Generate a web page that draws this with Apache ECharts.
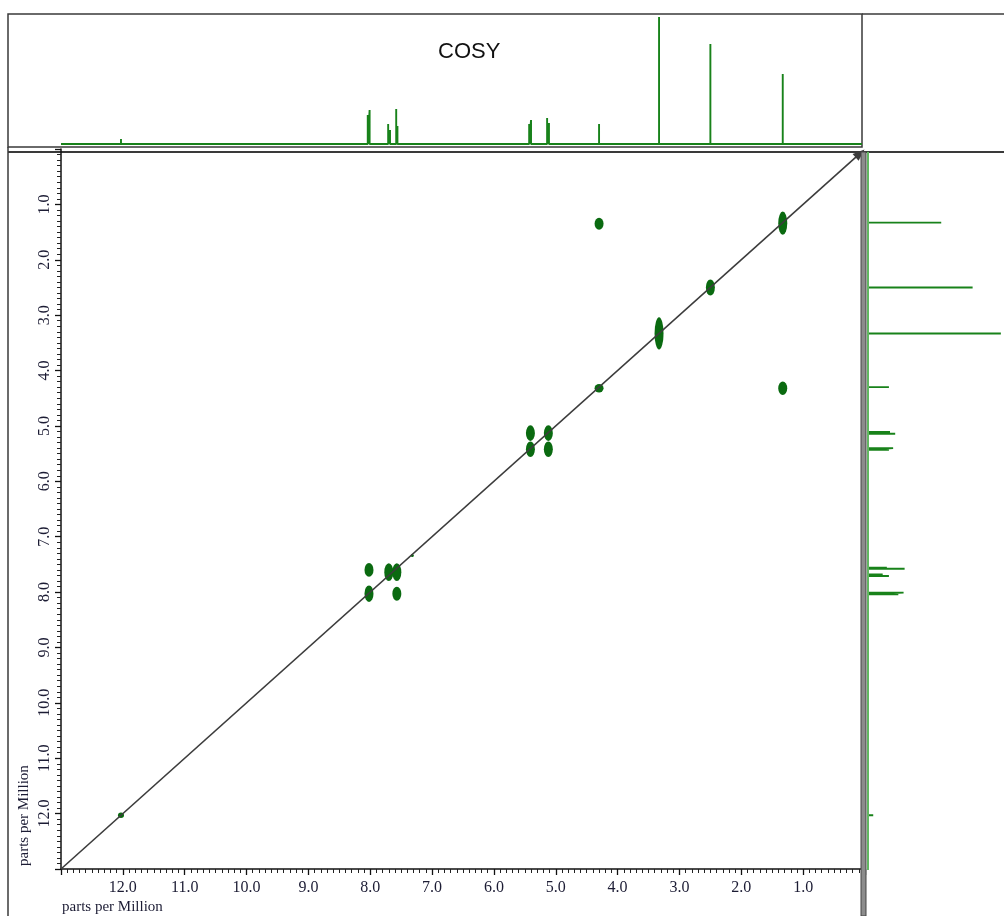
<!DOCTYPE html>
<html>
<head>
<meta charset="utf-8">
<title>COSY</title>
<script src="https://cdn.jsdelivr.net/npm/echarts@6/dist/echarts.min.js"></script>
<style>
  html, body { margin: 0; padding: 0; background: #fff; }
  #main { width: 1004px; height: 916px; }
</style>
</head>
<body>
<div id="main"></div>
<script>
// 1D proton spectrum (projection), ppm and relative height
var peakPpm    = [12.03, 8.04, 8.01, 7.71, 7.68, 7.58, 7.56, 5.43, 5.40, 5.14, 5.11, 4.30, 3.33, 2.50, 1.33];
var peakHeight = [5,     29,   34,   20,   14,   35,   18,   20,   24,   26,   21,   20,   127,  100,  70];

// 2D cross peaks: F2 (horizontal), F1 (vertical), F1 spread in ppm
var crossF2   = [12.03, 8.02, 8.02, 7.70, 7.57, 7.57, 7.32, 5.41, 5.41, 5.12, 5.12, 4.30, 4.30, 3.33, 2.50, 1.33, 1.33];
var crossF1   = [12.03, 8.03, 7.60, 7.64, 7.64, 8.03, 7.34, 5.13, 5.42, 5.13, 5.42, 1.35, 4.32, 3.33, 2.50, 1.34, 4.32];
var crossSpan = [0.10,  0.30, 0.25, 0.32, 0.32, 0.25, 0.05, 0.28, 0.28, 0.28, 0.28, 0.22, 0.15, 0.58, 0.29, 0.42, 0.24];

var ppmMax = 13, ppmMin = 0;

(function () {
    'use strict';
    var chart = echarts.init(document.getElementById('main'), null, { renderer: 'canvas' });

    // stick spectrum built from the peak list
    var order = peakPpm.map(function (p, i) { return i; }).sort(function (a, b) { return peakPpm[b] - peakPpm[a]; });
    var topLine = [[ppmMax, 0]];
    order.forEach(function (i) {
        topLine.push([peakPpm[i], 0], [peakPpm[i], peakHeight[i]], [peakPpm[i], 0]);
    });
    topLine.push([0.05, 0]);
    var sideLine = topLine.map(function (d) { return [d[1], d[0]]; });

    var cross = crossF2.map(function (x, i) { return [x, crossF1[i], crossSpan[i]]; });

    var serif = 'Liberation Serif';
    var green = '#18821a';
    var pxPerPpmY = 720 / 13;

    var tickLabel = function (v) {
        if (v <= 0 || v >= 13) return '';
        return v.toFixed(1);
    };

    var option = {
        animation: false,
        backgroundColor: '#fff',
        title: {
            text: 'COSY', left: 433, top: 36,
            textStyle: { fontFamily: 'Liberation Sans', fontWeight: 'normal', fontSize: 22, color: '#111' }
        },
        grid: [
            { left: 61, top: 149, width: 804, height: 720 },
            { left: 61, top: 14, width: 804, height: 130 },
            { left: 868, top: 149, width: 147, height: 720 }
        ],
        xAxis: [
            {
                gridIndex: 0, type: 'value', min: ppmMin, max: ppmMax, interval: 1, inverse: true,
                position: 'bottom',
                axisLine: { show: true, onZero: false, lineStyle: { color: '#111', width: 1.5 } },
                axisTick: { show: true, length: 6, lineStyle: { color: '#111', width: 1.3 } },
                minorTick: { show: true, splitNumber: 10, length: 4, lineStyle: { color: '#222', width: 1 } },
                axisLabel: { formatter: tickLabel, fontFamily: serif, fontSize: 16, color: '#1c1c34', margin: 11 },
                splitLine: { show: false }
            },
            { gridIndex: 1, type: 'value', min: ppmMin, max: ppmMax, inverse: true, show: false },
            { gridIndex: 2, type: 'value', min: 0, max: 130, show: false }
        ],
        yAxis: [
            {
                gridIndex: 0, type: 'value', min: ppmMin, max: ppmMax, interval: 1, inverse: true,
                position: 'left',
                axisLine: { show: true, onZero: false, lineStyle: { color: '#111', width: 1.5 } },
                axisTick: { show: true, length: 6, lineStyle: { color: '#111', width: 1.3 } },
                minorTick: { show: true, splitNumber: 10, length: 4, lineStyle: { color: '#222', width: 1 } },
                axisLabel: { formatter: tickLabel, rotate: 90, fontFamily: serif, fontSize: 16, color: '#1c1c34', margin: 8 },
                splitLine: { show: false }
            },
            { gridIndex: 1, type: 'value', min: 0, max: 130, show: false },
            { gridIndex: 2, type: 'value', min: ppmMin, max: ppmMax, inverse: true, show: false }
        ],
        series: [
            {
                name: 'cross peaks', type: 'scatter', xAxisIndex: 0, yAxisIndex: 0,
                data: cross,
                symbol: 'circle',
                symbolSize: function (v) { return [v[2] < 0.08 ? 3 : (v[2] < 0.12 ? 6 : 9), Math.max(3, v[2] * pxPerPpmY)]; },
                itemStyle: { color: '#0a6a10', opacity: 1 },
                emphasis: { disabled: true },
                z: 3,
                markLine: {
                    silent: true,
                    symbol: ['none', 'triangle'],
                    symbolSize: [9, 12],
                    label: { show: false },
                    lineStyle: { color: '#3c3c3c', width: 1.6, type: 'solid' },
                    data: [[{ coord: [ppmMax, ppmMax] }, { coord: [0.08, 0.08] }]]
                }
            },
            {
                name: 'F2 projection', type: 'line', xAxisIndex: 1, yAxisIndex: 1,
                data: topLine, showSymbol: false, symbol: 'none',
                lineStyle: { color: green, width: 1.9 },
                emphasis: { disabled: true }
            },
            {
                name: 'F1 projection', type: 'line', xAxisIndex: 2, yAxisIndex: 2,
                data: sideLine, showSymbol: false, symbol: 'none',
                lineStyle: { color: green, width: 1.9 },
                emphasis: { disabled: true }
            }
        ],
        graphic: [
            { type: 'rect', shape: { x: 8, y: 14, width: 854, height: 133 }, style: { fill: 'none', stroke: '#3a3a3a', lineWidth: 1.5 }, silent: true },
            { type: 'line', shape: { x1: 862, y1: 14, x2: 1004, y2: 14 }, style: { stroke: '#3a3a3a', lineWidth: 1.5 }, silent: true },
            { type: 'line', shape: { x1: 8, y1: 152, x2: 1004, y2: 152 }, style: { stroke: '#3a3a3a', lineWidth: 2 }, silent: true },
            { type: 'line', shape: { x1: 8, y1: 147, x2: 8, y2: 916 }, style: { stroke: '#3a3a3a', lineWidth: 1.5 }, silent: true },
            { type: 'rect', shape: { x: 861, y: 152, width: 5, height: 764 }, style: { fill: '#8c8c8c', stroke: '#444', lineWidth: 1 }, silent: true, z: 10 },
            { type: 'line', shape: { x1: 868, y1: 152, x2: 868, y2: 870 }, style: { stroke: '#62b862', lineWidth: 2 }, silent: true, z: 9 },
            {
                type: 'text', x: 62, y: 900, silent: true,
                style: { text: 'parts per Million', fontFamily: serif, fontSize: 15, fill: '#1c1c34' }
            },
            {
                type: 'text', x: 17, y: 866, rotation: Math.PI / 2, silent: true,
                style: { text: 'parts per Million', fontFamily: serif, fontSize: 15, fill: '#1c1c34' }
            }
        ]
    };

    chart.setOption(option);
})();
</script>
</body>
</html>
